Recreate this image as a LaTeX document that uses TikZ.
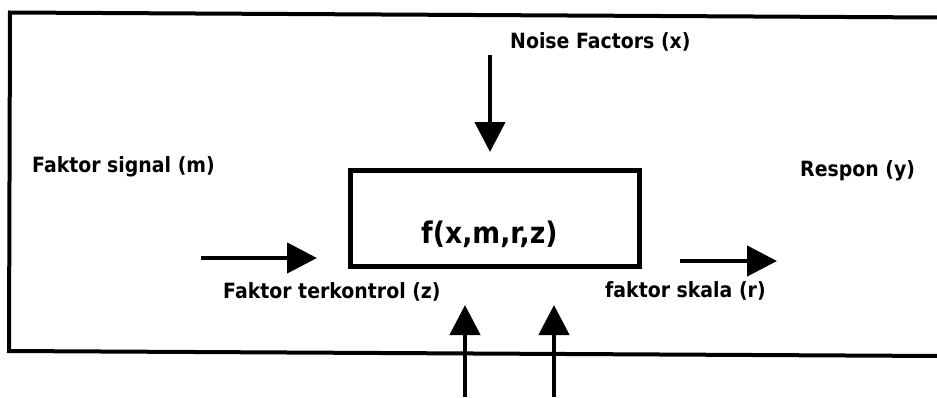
\documentclass[tikz,border=0pt]{standalone}
\usepackage{fontspec}
\newfontfamily\lblfont[FakeStretch=0.9]{DejaVu Sans}
\usetikzlibrary{arrows.meta}
\begin{document}
\begin{tikzpicture}[x=1pt,y=-1pt,
  frameline/.style={line width=4pt,line join=miter},
  bigarrow/.style={line width=4.5pt,-{Triangle[length=30pt,width=30pt]}},
  lbl/.style={font=\lblfont\bfseries\fontsize{21}{24}\selectfont,inner sep=0pt,anchor=base west},
  funcbox/.style={draw,line width=5pt,minimum width=289pt,minimum height=96pt,inner sep=0pt}]
\useasboundingbox (0,0) rectangle (937,397);
\fill[white] (0,0) rectangle (937,397);
% frame
\coordinate (ftr) at (940,17.5);
\coordinate (ftl) at (10,12.5);
\coordinate (fbl) at (9,351);
\coordinate (fbr) at (940,356);
\draw[frameline] (ftr) -- (ftl) -- (fbl) -- (fbr);
% central box
\node[funcbox] (box) at (495,218) {};
\node[lbl,font=\lblfont\bfseries\fontsize{29.7}{32}\selectfont] (func) at (421,243) {f(x,m,r,z)};
% labels
\node[lbl] (noise) at (510,48) {Noise Factors (x)};
\node[lbl] (signal) at (32,172) {Faktor signal (m)};
\node[lbl] (respon) at (800,176) {Respon (y)};
\node[lbl] (kontrol) at (223,298) {Faktor terkontrol (z)};
\node[lbl] (skala) at (605,297) {faktor skala (r)};
% arrow ends
\coordinate (nA) at (490,55);
\coordinate (nB) at (490,152);
\coordinate (sA) at (201,258);
\coordinate (sB) at (317,258);
\coordinate (rA) at (680,261);
\coordinate (rB) at (777,261);
\coordinate (zA) at (465,397);
\coordinate (zB) at (465,305);
\coordinate (kA) at (554,397);
\coordinate (kB) at (554,305);
\draw[bigarrow] (nA) -- (nB);
\draw[bigarrow] (sA) -- (sB);
\draw[bigarrow] (rA) -- (rB);
\draw[bigarrow] (zA) -- (zB);
\draw[bigarrow] (kA) -- (kB);
\end{tikzpicture}
\end{document}
